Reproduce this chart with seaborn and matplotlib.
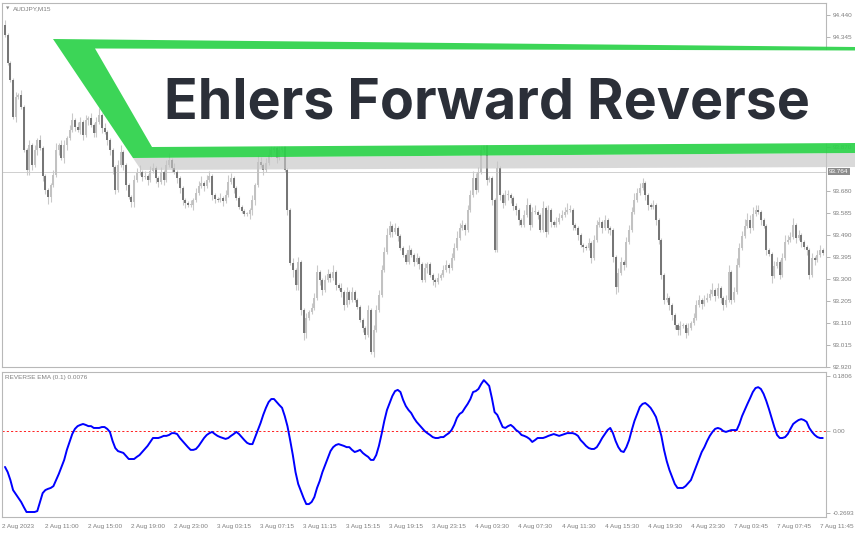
import matplotlib
matplotlib.use("Agg")
import matplotlib.pyplot as plt
from matplotlib.patches import Polygon
import numpy as np
import pandas as pd
import seaborn as sns

# ---------------- data ----------------
symbol_label = "AUDJPY,M15"
indicator_label = "REVERSE EMA (0.1) 0.0076"
title_text = "Ehlers Forward Reverse"
current_price = 93.764
first_open = 94.397

closes = [
    94.354, 94.233, 94.160, 94.000, 94.086, 94.095, 94.043, 93.857, 93.771, 93.879,
    93.792, 93.857, 93.900, 93.866, 93.745, 93.685, 93.654, 93.706, 93.749, 93.857,
    93.879, 93.823, 93.879, 93.909, 93.944, 93.987, 93.957, 93.944, 93.978, 93.922,
    93.987, 93.995, 93.965, 93.931, 93.978, 94.008, 93.952, 93.935, 93.900, 93.857,
    93.784, 93.685, 93.792, 93.849, 93.792, 93.706, 93.654, 93.633, 93.728, 93.758,
    93.762, 93.741, 93.745, 93.728, 93.767, 93.780, 93.736, 93.719, 93.762, 93.728,
    93.792, 93.814, 93.780, 93.762, 93.736, 93.693, 93.641, 93.628, 93.620, 93.620,
    93.641, 93.672, 93.702, 93.715, 93.702, 93.728, 93.745, 93.663, 93.646, 93.641,
    93.650, 93.637, 93.663, 93.719, 93.736, 93.693, 93.650, 93.611, 93.594, 93.581,
    93.581, 93.598, 93.641, 93.706, 93.806, 93.792, 93.771, 93.801, 93.836, 93.857,
    93.866, 93.823, 93.857, 93.879, 93.771, 93.598, 93.369, 93.339, 93.274, 93.374,
    93.166, 93.067, 93.132, 93.158, 93.175, 93.218, 93.330, 93.296, 93.253, 93.296,
    93.322, 93.305, 93.330, 93.274, 93.261, 93.244, 93.188, 93.244, 93.210, 93.244,
    93.210, 93.179, 93.123, 93.089, 93.059, 93.166, 92.985, 93.080, 93.166, 93.231,
    93.339, 93.417, 93.490, 93.529, 93.503, 93.520, 93.486, 93.434, 93.404, 93.374,
    93.425, 93.404, 93.374, 93.391, 93.365, 93.296, 93.348, 93.365, 93.318, 93.296,
    93.287, 93.305, 93.318, 93.339, 93.361, 93.348, 93.391, 93.434, 93.477, 93.520,
    93.533, 93.512, 93.598, 93.663, 93.736, 93.685, 93.762, 93.857, 93.879, 93.728,
    93.736, 93.641, 93.425, 93.780, 93.663, 93.628, 93.663, 93.663, 93.650, 93.616,
    93.598, 93.555, 93.533, 93.577, 93.620, 93.533, 93.590, 93.590, 93.577, 93.512,
    93.607, 93.503, 93.598, 93.546, 93.533, 93.546, 93.564, 93.577, 93.590, 93.598,
    93.598, 93.533, 93.520, 93.490, 93.447, 93.438, 93.434, 93.456, 93.391, 93.469,
    93.533, 93.546, 93.520, 93.555, 93.520, 93.512, 93.395, 93.266, 93.326, 93.374,
    93.361, 93.460, 93.512, 93.590, 93.641, 93.672, 93.693, 93.715, 93.663, 93.620,
    93.611, 93.620, 93.555, 93.469, 93.318, 93.210, 93.218, 93.188, 93.145, 93.102,
    93.080, 93.097, 93.102, 93.067, 93.089, 93.110, 93.132, 93.188, 93.210, 93.192,
    93.210, 93.218, 93.235, 93.253, 93.227, 93.261, 93.218, 93.188, 93.210, 93.330,
    93.210, 93.244, 93.361, 93.434, 93.486, 93.529, 93.555, 93.520, 93.581, 93.598,
    93.590, 93.555, 93.529, 93.425, 93.408, 93.313, 93.356, 93.374, 93.318, 93.391,
    93.460, 93.469, 93.482, 93.533, 93.477, 93.490, 93.460, 93.438, 93.425, 93.318,
    93.391, 93.382, 93.404, 93.425, 93.412,
]

# wick lengths in hundredths of a yen
wick_up = [
    2, 1, 1, 1, 2, 1, 2, 1, 1, 2,   1, 2, 1, 2, 1, 1, 1, 1, 2, 3,
    1, 2, 2, 1, 2, 3, 1, 2, 2, 1,   2, 1, 2, 1, 2, 3, 1, 2, 1, 1,
    1, 1, 2, 3, 1, 1, 1, 1, 2, 2,   3, 1, 2, 1, 2, 2, 1, 1, 2, 1,
    2, 3, 1, 2, 1, 1, 1, 1, 1, 2,   1, 2, 2, 3, 1, 2, 2, 1, 1, 1,
    2, 1, 2, 3, 2, 1, 1, 1, 1, 1,   1, 1, 2, 1, 3, 2, 1, 2, 3, 2,
    3, 2, 2, 3, 1, 1, 1, 2, 1, 2,   1, 1, 2, 1, 2, 2, 3, 1, 1, 2,
    2, 1, 3, 1, 1, 2, 1, 2, 1, 2,   1, 1, 1, 1, 1, 2, 1, 2, 2, 2,
    2, 2, 3, 2, 1, 2, 1, 1, 1, 1,   2, 1, 1, 2, 1, 1, 2, 1, 1, 1,
    1, 2, 1, 2, 2, 1, 2, 2, 3, 2,   2, 1, 2, 2, 3, 2, 2, 2, 3, 1,
    1, 1, 1, 3, 1, 1, 2, 2, 1, 1,   1, 1, 1, 2, 3, 1, 2, 3, 1, 1,
    3, 1, 2, 1, 1, 2, 2, 2, 2, 3,   2, 1, 1, 1, 1, 1, 1, 2, 1, 2,
    2, 2, 1, 2, 1, 1, 1, 1, 2, 2,   1, 2, 2, 2, 3, 2, 2, 2, 1, 1,
    1, 2, 1, 1, 1, 1, 2, 1, 1, 1,   1, 2, 1, 1, 2, 1, 2, 2, 2, 1,
    2, 2, 2, 3, 1, 2, 1, 1, 2, 3,   1, 2, 3, 2, 2, 3, 3, 2, 3, 2,
    2, 1, 1, 1, 1, 1, 2, 2, 1, 2,   3, 2, 2, 3, 1, 2, 1, 1, 1, 1,
    2, 1, 2, 2, 1,
]
wick_dn = [
    1, 1, 1, 1, 2, 1, 1, 1, 2, 2,   2, 1, 2, 1, 2, 2, 3, 2, 1, 1,
    2, 1, 2, 2, 1, 1, 2, 1, 2, 2,   1, 2, 1, 2, 2, 1, 2, 1, 2, 2,
    3, 2, 1, 1, 2, 2, 1, 2, 2, 1,   1, 2, 1, 2, 1, 1, 2, 2, 1, 2,
    1, 1, 2, 1, 2, 2, 2, 2, 1, 1,   2, 1, 1, 1, 2, 1, 1, 2, 2, 1,
    1, 2, 1, 1, 1, 2, 1, 1, 1, 1,   1, 2, 2, 2, 1, 1, 2, 1, 1, 1,
    1, 2, 1, 1, 1, 2, 1, 3, 2, 2,   2, 3, 2, 1, 1, 1, 1, 2, 2, 1,
    1, 2, 1, 2, 1, 2, 2, 1, 2, 1,   1, 1, 1, 2, 2, 1, 1, 2, 1, 1,
    1, 1, 1, 1, 2, 1, 2, 1, 1, 1,   1, 1, 2, 1, 2, 1, 1, 2, 1, 2,
    2, 1, 1, 1, 1, 2, 1, 1, 1, 1,   1, 2, 1, 1, 1, 2, 1, 1, 1, 2,
    1, 2, 1, 1, 2, 2, 1, 2, 2, 2,   2, 2, 1, 1, 1, 2, 1, 1, 2, 1,
    1, 2, 1, 2, 1, 1, 1, 1, 1, 1,   1, 2, 1, 2, 1, 2, 1, 1, 2, 1,
    1, 1, 2, 1, 2, 2, 2, 3, 2, 1,   2, 1, 1, 1, 1, 1, 1, 1, 2, 2,
    1, 1, 2, 2, 2, 2, 1, 2, 2, 2,   2, 2, 1, 2, 1, 1, 1, 1, 1, 2,
    1, 1, 1, 1, 2, 1, 2, 2, 1, 1,   2, 1, 1, 1, 1, 1, 1, 2, 1, 1,
    1, 2, 1, 2, 1, 3, 1, 1, 2, 1,   1, 1, 1, 1, 2, 1, 2, 1, 2, 2,
    1, 2, 1, 1, 1,
]

reverse_ema = [
    -0.118, -0.135, -0.161, -0.194, -0.207, -0.220, -0.233, -0.250, -0.266, -0.266,
    -0.266, -0.266, -0.263, -0.233, -0.204, -0.194, -0.190, -0.187, -0.181, -0.161,
    -0.141, -0.118, -0.095, -0.062, -0.036, -0.010, 0.007, 0.016, 0.020, 0.023,
    0.020, 0.016, 0.016, 0.010, 0.010, 0.010, 0.013, 0.013, 0.007, -0.003,
    -0.033, -0.056, -0.066, -0.069, -0.072, -0.082, -0.092, -0.092, -0.092, -0.085,
    -0.079, -0.069, -0.059, -0.049, -0.036, -0.023, -0.023, -0.023, -0.020, -0.016,
    -0.016, -0.013, -0.007, -0.007, -0.010, -0.023, -0.033, -0.043, -0.053, -0.062,
    -0.062, -0.059, -0.049, -0.036, -0.023, -0.013, -0.007, -0.003, -0.010, -0.016,
    -0.020, -0.023, -0.026, -0.023, -0.016, -0.010, -0.003, -0.010, -0.020, -0.030,
    -0.039, -0.043, -0.043, -0.020, 0.003, 0.026, 0.053, 0.076, 0.095, 0.105,
    0.105, 0.095, 0.085, 0.076, 0.049, 0.016, -0.030, -0.079, -0.135, -0.174,
    -0.197, -0.220, -0.240, -0.240, -0.233, -0.217, -0.187, -0.164, -0.135, -0.112,
    -0.089, -0.066, -0.053, -0.046, -0.043, -0.046, -0.049, -0.053, -0.053, -0.062,
    -0.069, -0.066, -0.062, -0.072, -0.079, -0.085, -0.095, -0.095, -0.079, -0.049,
    -0.010, 0.033, 0.069, 0.092, 0.115, 0.131, 0.135, 0.128, 0.102, 0.082,
    0.069, 0.059, 0.043, 0.030, 0.020, 0.010, 0.000, -0.007, -0.013, -0.020,
    -0.023, -0.023, -0.020, -0.020, -0.013, -0.007, 0.003, 0.020, 0.043, 0.056,
    0.062, 0.076, 0.089, 0.105, 0.128, 0.131, 0.138, 0.154, 0.167, 0.158,
    0.148, 0.108, 0.062, 0.053, 0.033, 0.013, 0.010, 0.016, 0.020, 0.013,
    0.003, -0.003, -0.013, -0.016, -0.020, -0.026, -0.036, -0.030, -0.023, -0.023,
    -0.023, -0.020, -0.016, -0.013, -0.010, -0.013, -0.016, -0.013, -0.010, -0.007,
    -0.007, -0.007, -0.010, -0.016, -0.030, -0.039, -0.049, -0.056, -0.059, -0.059,
    -0.053, -0.039, -0.023, -0.010, 0.003, 0.010, -0.007, -0.033, -0.053, -0.066,
    -0.069, -0.053, -0.030, 0.003, 0.033, 0.056, 0.079, 0.089, 0.092, 0.085,
    0.076, 0.062, 0.046, 0.016, -0.016, -0.062, -0.099, -0.128, -0.151, -0.174,
    -0.187, -0.187, -0.187, -0.181, -0.171, -0.161, -0.138, -0.115, -0.092, -0.069,
    -0.053, -0.033, -0.016, -0.003, 0.007, 0.010, 0.007, 0.000, -0.003, 0.000,
    0.003, 0.003, 0.003, 0.023, 0.049, 0.069, 0.089, 0.108, 0.128, 0.141,
    0.144, 0.138, 0.122, 0.099, 0.072, 0.043, 0.013, -0.013, -0.023, -0.023,
    -0.020, -0.010, 0.007, 0.023, 0.030, 0.036, 0.039, 0.036, 0.030, 0.010,
    -0.003, -0.013, -0.020, -0.023, -0.023,
]

price_ticks = [94.440, 94.345, 94.250, 94.155, 94.060, 93.965, 93.870,
               93.680, 93.585, 93.490, 93.395, 93.300, 93.205, 93.110, 93.015, 92.920]
ind_ticks = [0.1806, 0.0, -0.2693]
ind_tick_labels = ["0.1806", "0.00", "-0.2693"]
time_labels = ["2 Aug 2023", "2 Aug 11:00", "2 Aug 15:00", "2 Aug 19:00", "2 Aug 23:00",
               "3 Aug 03:15", "3 Aug 07:15", "3 Aug 11:15", "3 Aug 15:15", "3 Aug 19:15",
               "3 Aug 23:15", "4 Aug 03:30", "4 Aug 07:30", "4 Aug 11:30", "4 Aug 15:30",
               "4 Aug 19:30", "4 Aug 23:30", "7 Aug 03:45", "7 Aug 07:45", "7 Aug 11:45"]
bars_per_label = 16

# ---------------- style ----------------
sns.set_style("white")
plt.rcParams['font.family'] = ['Liberation Sans', 'DejaVu Sans']

GRAY_TXT = '#7f7f7f'
SPINE = '#b8b8b8'
SMALL = 4.6

n = len(closes)
idx = np.arange(n)
c = np.array(closes)
o = np.concatenate([[first_open], c[:-1]])
hi = np.maximum(o, c) + np.array(wick_up) * 0.01
lo = np.minimum(o, c) - np.array(wick_dn) * 0.01
bull = c >= o

W, H = 855, 534
fig = plt.figure(figsize=(W / 100, H / 100), dpi=100)
fig.patch.set_facecolor('white')


def rect(l, t, r, b):
    return [l / W, 1 - b / H, (r - l) / W, (b - t) / H]


ax = fig.add_axes(rect(2, 3, 826, 367))
ax2 = fig.add_axes(rect(2, 372, 826, 517))

px_per_bar = 2.69
x_left = -(5 - 2) / px_per_bar
x_right = (826 - 5) / px_per_bar

# ---------------- candles ----------------
ax.axhline(current_price, color='#cfcfcf', lw=0.7, zorder=1)
ax.vlines(idx, lo, hi, color='#c9c9c9', lw=0.8, zorder=2)
body_h = np.maximum(np.abs(c - o), 0.004)
body_b = np.minimum(o, c)
ax.bar(idx[bull], body_h[bull], bottom=body_b[bull], width=0.75,
       color='#c2c2c2', linewidth=0, zorder=3)
ax.bar(idx[~bull], body_h[~bull], bottom=body_b[~bull], width=0.75,
       color='#767676', linewidth=0, zorder=3)

ax.set_xlim(x_left, x_right)
ax.set_ylim(92.920, 92.920 + 364 * 0.004318)
ax.set_xticks([])
ax.yaxis.tick_right()
ax.set_yticks(price_ticks)
ax.set_yticklabels([f"{v:.3f}" for v in price_ticks])
ax.tick_params(axis='y', direction='out', length=3, width=0.6, colors='#a8a8a8',
               labelsize=SMALL, labelcolor=GRAY_TXT, pad=1.5)
for s in ax.spines.values():
    s.set_color(SPINE)
    s.set_linewidth(0.8)
ax.set_xlabel("")
ax.set_ylabel("")

# ---------------- indicator ----------------
df = pd.DataFrame({"bar": idx, "value": reverse_ema})
ax2.axhline(0, color='#ff2020', lw=0.7, ls=(0, (2.2, 2.2)), zorder=1)
sns.lineplot(data=df, x="bar", y="value", ax=ax2, color='#0000ff', lw=1.4, zorder=3)
ax2.set_xlim(x_left, x_right)
ax2.set_ylim(-(517 - 431) * 0.003284, (431 - 372) * 0.003284)
ax2.yaxis.tick_right()
ax2.set_yticks(ind_ticks)
ax2.set_yticklabels(ind_tick_labels)
# time labels start just left of their bar, as on the terminal
tick_pos = [i * bars_per_label + x_left for i in range(len(time_labels))]
ax2.set_xticks(tick_pos)
ax2.set_xticklabels(time_labels, ha='left')
ax2.tick_params(axis='y', direction='out', length=3, width=0.6, colors='#a8a8a8',
                labelsize=SMALL, labelcolor=GRAY_TXT, pad=1.5)
ax2.tick_params(axis='x', direction='out', length=2.5, width=0.6, colors='#a8a8a8',
                labelsize=SMALL, labelcolor=GRAY_TXT, pad=2.5)
for s in ax2.spines.values():
    s.set_color(SPINE)
    s.set_linewidth(0.8)
ax2.set_xlabel("")
ax2.set_ylabel("")

# ---------------- overlay (banner, labels) ----------------
ov = fig.add_axes([0, 0, 1, 1], zorder=10)
ov.set_xlim(0, W)
ov.set_ylim(H, 0)
ov.axis('off')
ov.patch.set_alpha(0)

ov.text(8, 9, "\u25BC", fontsize=3.2, color='#8a8a8a', ha='center', va='center',
        family='DejaVu Sans')
ov.text(13, 9, symbol_label, fontsize=SMALL, color=GRAY_TXT, ha='left', va='center')
ov.text(5, 378, indicator_label, fontsize=SMALL, color=GRAY_TXT, ha='left', va='center')
ov.text(829, 171.5, f"{current_price:.3f}", fontsize=SMALL, color='white', ha='left',
        va='center', bbox=dict(facecolor='#8c8c8c', edgecolor='none', pad=0.8))

ov.add_patch(Polygon([(133, 158), (855, 153), (855, 167), (141, 170)], closed=True,
                     facecolor='#c6c6c6', edgecolor='none', alpha=0.65))
ov.add_patch(Polygon([(53, 39), (855, 47), (855, 153), (133, 158)], closed=True,
                     facecolor='#2dd24a', edgecolor='none', alpha=0.93))
ov.add_patch(Polygon([(95, 48.5), (855, 50.5), (855, 143), (152, 147)], closed=True,
                     facecolor='white', edgecolor='none'))
ov.text(164, 118.5, title_text, fontsize=40, fontweight='bold', color='#2b2f38',
        family='Inter', ha='left', va='baseline')

fig.savefig("out.png", dpi=100, facecolor='white')
